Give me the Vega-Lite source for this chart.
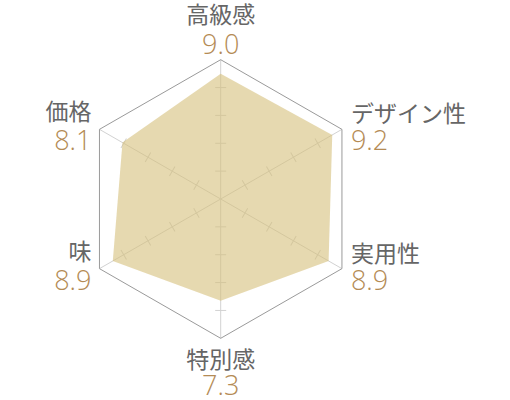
{
  "$schema": "https://vega.github.io/schema/vega-lite/v6.json",
  "width": 510,
  "height": 400,
  "autosize": {"type": "fit", "contains": "padding"},
  "padding": 0,
  "background": "white",
  "config": {"view": {"stroke": null}, "axis": {"disable": true}},
  "datasets": {
    "axes": [
      {"axis": "高級感", "i": 0, "score": 9.0},
      {"axis": "デザイン性", "i": 1, "score": 9.2},
      {"axis": "実用性", "i": 2, "score": 8.9},
      {"axis": "特別感", "i": 3, "score": 7.3},
      {"axis": "味", "i": 4, "score": 8.9},
      {"axis": "価格", "i": 5, "score": 8.1}
    ],
    "ticks": [
      {"i": 0, "t": 2}, {"i": 0, "t": 4}, {"i": 0, "t": 6}, {"i": 0, "t": 8},
      {"i": 1, "t": 2}, {"i": 1, "t": 4}, {"i": 1, "t": 6}, {"i": 1, "t": 8},
      {"i": 2, "t": 2}, {"i": 2, "t": 4}, {"i": 2, "t": 6}, {"i": 2, "t": 8},
      {"i": 3, "t": 2}, {"i": 3, "t": 4}, {"i": 3, "t": 6}, {"i": 3, "t": 8},
      {"i": 4, "t": 2}, {"i": 4, "t": 4}, {"i": 4, "t": 6}, {"i": 4, "t": 8},
      {"i": 5, "t": 2}, {"i": 5, "t": 4}, {"i": 5, "t": 6}, {"i": 5, "t": 8}
    ]
  },
  "layer": [
    {
      "data": {"name": "axes"},
      "transform": [
        {"calculate": "0", "as": "z"},
        {"calculate": "10*sin(datum.i*PI/3)", "as": "vx"},
        {"calculate": "10*cos(datum.i*PI/3)", "as": "vy"}
      ],
      "mark": {"type": "rule", "stroke": "#d2d2d2", "strokeWidth": 1},
      "encoding": {
        "x": {"field": "z", "type": "quantitative", "scale": {"domain": [-15.764, 20.664], "nice": false, "zero": false}},
        "y": {"field": "z", "type": "quantitative", "scale": {"domain": [-14.286, 14.286], "nice": false, "zero": false}},
        "x2": {"field": "vx"},
        "y2": {"field": "vy"}
      }
    },
    {
      "data": {"name": "ticks"},
      "transform": [
        {"calculate": "datum.t*sin(datum.i*PI/3)", "as": "tx"},
        {"calculate": "datum.t*cos(datum.i*PI/3)", "as": "ty"},
        {"calculate": "datum.i*60", "as": "deg"}
      ],
      "mark": {"type": "point", "shape": "stroke", "filled": false, "stroke": "#d2d2d2", "strokeWidth": 1, "size": 121, "opacity": 1},
      "encoding": {
        "x": {"field": "tx", "type": "quantitative"},
        "y": {"field": "ty", "type": "quantitative"},
        "angle": {"field": "deg", "type": "quantitative", "scale": null}
      }
    },
    {
      "data": {"name": "axes"},
      "transform": [
        {"calculate": "10*sin(datum.i*PI/3)", "as": "vx"},
        {"calculate": "10*cos(datum.i*PI/3)", "as": "vy"},
        {"calculate": "10*sin((datum.i+1)*PI/3)", "as": "nx"},
        {"calculate": "10*cos((datum.i+1)*PI/3)", "as": "ny"}
      ],
      "mark": {"type": "rule", "stroke": "#9a9a9a", "strokeWidth": 1},
      "encoding": {
        "x": {"field": "vx", "type": "quantitative"},
        "y": {"field": "vy", "type": "quantitative"},
        "x2": {"field": "nx"},
        "y2": {"field": "ny"}
      }
    },
    {
      "data": {"name": "axes"},
      "transform": [
        {"calculate": "datum.score*sin(datum.i*PI/3)", "as": "px"},
        {"calculate": "datum.score*cos(datum.i*PI/3)", "as": "py"}
      ],
      "mark": {"type": "line", "interpolate": "linear-closed", "fill": "#d5c07b", "fillOpacity": 0.6, "strokeOpacity": 0, "strokeWidth": 0},
      "encoding": {
        "x": {"field": "px", "type": "quantitative"},
        "y": {"field": "py", "type": "quantitative"},
        "order": {"field": "i", "type": "quantitative"}
      }
    },
    {
      "data": {"name": "axes"},
      "transform": [
        {"filter": "datum.i == 0"},
        {"calculate": "10*sin(datum.i*PI/3)", "as": "vx"},
        {"calculate": "10*cos(datum.i*PI/3)", "as": "vy"}
      ],
      "layer": [
        {
          "mark": {"type": "text", "align": "center", "baseline": "alphabetic", "dy": -37, "font": "Noto Sans CJK JP", "fontSize": 23, "fontWeight": 400, "color": "#666666"},
          "encoding": {"x": {"field": "vx", "type": "quantitative"}, "y": {"field": "vy", "type": "quantitative"}, "text": {"field": "axis"}}
        },
        {
          "mark": {"type": "text", "align": "center", "baseline": "alphabetic", "dy": -6, "font": "Open Sans", "fontSize": 27, "fontWeight": 300, "color": "#b48b55"},
          "encoding": {"x": {"field": "vx", "type": "quantitative"}, "y": {"field": "vy", "type": "quantitative"}, "text": {"field": "score", "format": ".1f"}}
        }
      ]
    },
    {
      "data": {"name": "axes"},
      "transform": [
        {"filter": "datum.i == 3"},
        {"calculate": "10*sin(datum.i*PI/3)", "as": "vx"},
        {"calculate": "10*cos(datum.i*PI/3)", "as": "vy"}
      ],
      "layer": [
        {
          "mark": {"type": "text", "align": "center", "baseline": "alphabetic", "dy": 30, "font": "Noto Sans CJK JP", "fontSize": 23, "fontWeight": 400, "color": "#666666"},
          "encoding": {"x": {"field": "vx", "type": "quantitative"}, "y": {"field": "vy", "type": "quantitative"}, "text": {"field": "axis"}}
        },
        {
          "mark": {"type": "text", "align": "center", "baseline": "alphabetic", "dy": 57, "font": "Open Sans", "fontSize": 27, "fontWeight": 300, "color": "#b48b55"},
          "encoding": {"x": {"field": "vx", "type": "quantitative"}, "y": {"field": "vy", "type": "quantitative"}, "text": {"field": "score", "format": ".1f"}}
        }
      ]
    },
    {
      "data": {"name": "axes"},
      "transform": [
        {"filter": "datum.i == 1 || datum.i == 2"},
        {"calculate": "10*sin(datum.i*PI/3)", "as": "vx"},
        {"calculate": "10*cos(datum.i*PI/3)", "as": "vy"}
      ],
      "layer": [
        {
          "mark": {"type": "text", "align": "left", "baseline": "alphabetic", "dx": 9, "dy": -7, "font": "Noto Sans CJK JP", "fontSize": 23, "fontWeight": 400, "color": "#666666"},
          "encoding": {"x": {"field": "vx", "type": "quantitative"}, "y": {"field": "vy", "type": "quantitative"}, "text": {"field": "axis"}}
        },
        {
          "mark": {"type": "text", "align": "left", "baseline": "alphabetic", "dx": 9, "dy": 21, "font": "Open Sans", "fontSize": 27, "fontWeight": 300, "color": "#b48b55"},
          "encoding": {"x": {"field": "vx", "type": "quantitative"}, "y": {"field": "vy", "type": "quantitative"}, "text": {"field": "score", "format": ".1f"}}
        }
      ]
    },
    {
      "data": {"name": "axes"},
      "transform": [
        {"filter": "datum.i == 4 || datum.i == 5"},
        {"calculate": "10*sin(datum.i*PI/3)", "as": "vx"},
        {"calculate": "10*cos(datum.i*PI/3)", "as": "vy"}
      ],
      "layer": [
        {
          "mark": {"type": "text", "align": "right", "baseline": "alphabetic", "dx": -8, "dy": -9, "font": "Noto Sans CJK JP", "fontSize": 23, "fontWeight": 400, "color": "#666666"},
          "encoding": {"x": {"field": "vx", "type": "quantitative"}, "y": {"field": "vy", "type": "quantitative"}, "text": {"field": "axis"}}
        },
        {
          "mark": {"type": "text", "align": "right", "baseline": "alphabetic", "dx": -8, "dy": 21, "font": "Open Sans", "fontSize": 27, "fontWeight": 300, "color": "#b48b55"},
          "encoding": {"x": {"field": "vx", "type": "quantitative"}, "y": {"field": "vy", "type": "quantitative"}, "text": {"field": "score", "format": ".1f"}}
        }
      ]
    }
  ]
}
